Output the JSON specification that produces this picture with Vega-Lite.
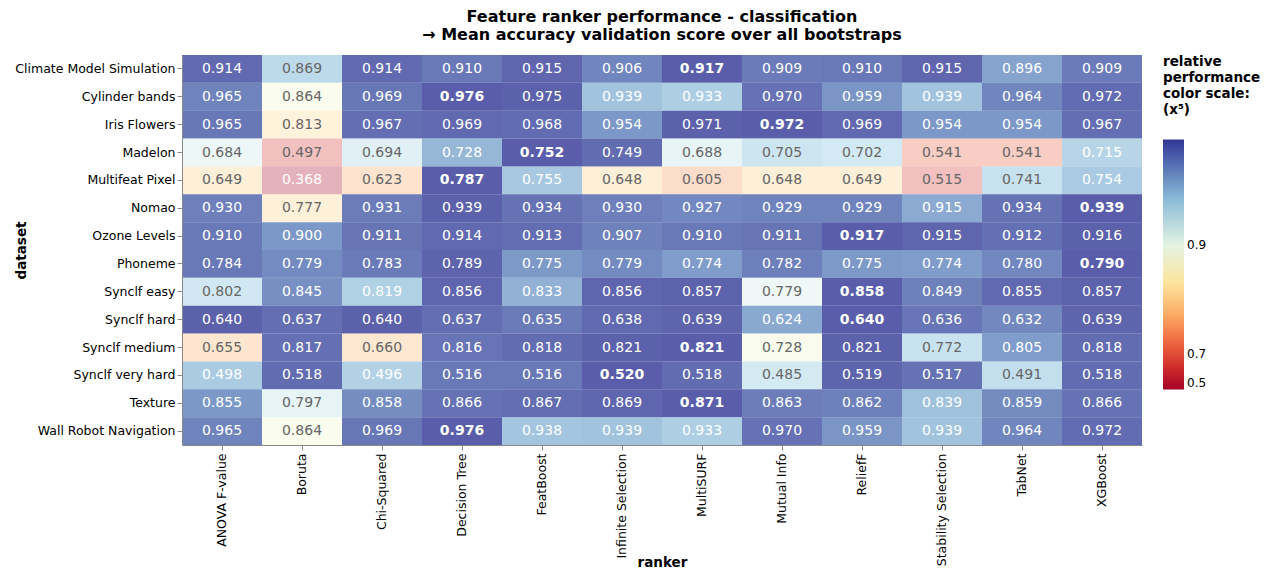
{
  "$schema": "https://vega.github.io/schema/vega-lite/v6.json",
  "autosize": {"type": "none"},
  "padding": {"left": 182, "top": 55, "right": 129, "bottom": 127},
  "width": 960,
  "height": 390,
  "title": {
    "text": ["Feature ranker performance - classification", "→ Mean accuracy validation score over all bootstraps"],
    "font": "DejaVu Sans",
    "fontSize": 16,
    "fontWeight": "bold",
    "color": "#000",
    "anchor": "middle",
    "lineHeight": 18,
    "offset": 12
  },
  "config": {
    "font": "DejaVu Sans",
    "view": {"stroke": null},
    "axis": {"labelColor": "#000", "titleColor": "#000", "labelFont": "DejaVu Sans", "titleFont": "DejaVu Sans", "labelFontSize": 12.5, "titleFontSize": 13.5, "titleFontWeight": "bold"},
    "legend": {"labelColor": "#000", "titleColor": "#000", "labelFont": "DejaVu Sans", "titleFont": "DejaVu Sans"}
  },
  "data": {
    "values": [
      {"dataset": "Climate Model Simulation", "ranker": "ANOVA F-value", "score": 0.914},
      {"dataset": "Climate Model Simulation", "ranker": "Boruta", "score": 0.869},
      {"dataset": "Climate Model Simulation", "ranker": "Chi-Squared", "score": 0.914},
      {"dataset": "Climate Model Simulation", "ranker": "Decision Tree", "score": 0.910},
      {"dataset": "Climate Model Simulation", "ranker": "FeatBoost", "score": 0.915},
      {"dataset": "Climate Model Simulation", "ranker": "Infinite Selection", "score": 0.906},
      {"dataset": "Climate Model Simulation", "ranker": "MultiSURF", "score": 0.917},
      {"dataset": "Climate Model Simulation", "ranker": "Mutual Info", "score": 0.909},
      {"dataset": "Climate Model Simulation", "ranker": "ReliefF", "score": 0.910},
      {"dataset": "Climate Model Simulation", "ranker": "Stability Selection", "score": 0.915},
      {"dataset": "Climate Model Simulation", "ranker": "TabNet", "score": 0.896},
      {"dataset": "Climate Model Simulation", "ranker": "XGBoost", "score": 0.909},
      {"dataset": "Cylinder bands", "ranker": "ANOVA F-value", "score": 0.965},
      {"dataset": "Cylinder bands", "ranker": "Boruta", "score": 0.864},
      {"dataset": "Cylinder bands", "ranker": "Chi-Squared", "score": 0.969},
      {"dataset": "Cylinder bands", "ranker": "Decision Tree", "score": 0.976},
      {"dataset": "Cylinder bands", "ranker": "FeatBoost", "score": 0.975},
      {"dataset": "Cylinder bands", "ranker": "Infinite Selection", "score": 0.939},
      {"dataset": "Cylinder bands", "ranker": "MultiSURF", "score": 0.933},
      {"dataset": "Cylinder bands", "ranker": "Mutual Info", "score": 0.970},
      {"dataset": "Cylinder bands", "ranker": "ReliefF", "score": 0.959},
      {"dataset": "Cylinder bands", "ranker": "Stability Selection", "score": 0.939},
      {"dataset": "Cylinder bands", "ranker": "TabNet", "score": 0.964},
      {"dataset": "Cylinder bands", "ranker": "XGBoost", "score": 0.972},
      {"dataset": "Iris Flowers", "ranker": "ANOVA F-value", "score": 0.965},
      {"dataset": "Iris Flowers", "ranker": "Boruta", "score": 0.813},
      {"dataset": "Iris Flowers", "ranker": "Chi-Squared", "score": 0.967},
      {"dataset": "Iris Flowers", "ranker": "Decision Tree", "score": 0.969},
      {"dataset": "Iris Flowers", "ranker": "FeatBoost", "score": 0.968},
      {"dataset": "Iris Flowers", "ranker": "Infinite Selection", "score": 0.954},
      {"dataset": "Iris Flowers", "ranker": "MultiSURF", "score": 0.971},
      {"dataset": "Iris Flowers", "ranker": "Mutual Info", "score": 0.972},
      {"dataset": "Iris Flowers", "ranker": "ReliefF", "score": 0.969},
      {"dataset": "Iris Flowers", "ranker": "Stability Selection", "score": 0.954},
      {"dataset": "Iris Flowers", "ranker": "TabNet", "score": 0.954},
      {"dataset": "Iris Flowers", "ranker": "XGBoost", "score": 0.967},
      {"dataset": "Madelon", "ranker": "ANOVA F-value", "score": 0.684},
      {"dataset": "Madelon", "ranker": "Boruta", "score": 0.497},
      {"dataset": "Madelon", "ranker": "Chi-Squared", "score": 0.694},
      {"dataset": "Madelon", "ranker": "Decision Tree", "score": 0.728},
      {"dataset": "Madelon", "ranker": "FeatBoost", "score": 0.752},
      {"dataset": "Madelon", "ranker": "Infinite Selection", "score": 0.749},
      {"dataset": "Madelon", "ranker": "MultiSURF", "score": 0.688},
      {"dataset": "Madelon", "ranker": "Mutual Info", "score": 0.705},
      {"dataset": "Madelon", "ranker": "ReliefF", "score": 0.702},
      {"dataset": "Madelon", "ranker": "Stability Selection", "score": 0.541},
      {"dataset": "Madelon", "ranker": "TabNet", "score": 0.541},
      {"dataset": "Madelon", "ranker": "XGBoost", "score": 0.715},
      {"dataset": "Multifeat Pixel", "ranker": "ANOVA F-value", "score": 0.649},
      {"dataset": "Multifeat Pixel", "ranker": "Boruta", "score": 0.368},
      {"dataset": "Multifeat Pixel", "ranker": "Chi-Squared", "score": 0.623},
      {"dataset": "Multifeat Pixel", "ranker": "Decision Tree", "score": 0.787},
      {"dataset": "Multifeat Pixel", "ranker": "FeatBoost", "score": 0.755},
      {"dataset": "Multifeat Pixel", "ranker": "Infinite Selection", "score": 0.648},
      {"dataset": "Multifeat Pixel", "ranker": "MultiSURF", "score": 0.605},
      {"dataset": "Multifeat Pixel", "ranker": "Mutual Info", "score": 0.648},
      {"dataset": "Multifeat Pixel", "ranker": "ReliefF", "score": 0.649},
      {"dataset": "Multifeat Pixel", "ranker": "Stability Selection", "score": 0.515},
      {"dataset": "Multifeat Pixel", "ranker": "TabNet", "score": 0.741},
      {"dataset": "Multifeat Pixel", "ranker": "XGBoost", "score": 0.754},
      {"dataset": "Nomao", "ranker": "ANOVA F-value", "score": 0.930},
      {"dataset": "Nomao", "ranker": "Boruta", "score": 0.777},
      {"dataset": "Nomao", "ranker": "Chi-Squared", "score": 0.931},
      {"dataset": "Nomao", "ranker": "Decision Tree", "score": 0.9386},
      {"dataset": "Nomao", "ranker": "FeatBoost", "score": 0.934},
      {"dataset": "Nomao", "ranker": "Infinite Selection", "score": 0.930},
      {"dataset": "Nomao", "ranker": "MultiSURF", "score": 0.927},
      {"dataset": "Nomao", "ranker": "Mutual Info", "score": 0.929},
      {"dataset": "Nomao", "ranker": "ReliefF", "score": 0.929},
      {"dataset": "Nomao", "ranker": "Stability Selection", "score": 0.915},
      {"dataset": "Nomao", "ranker": "TabNet", "score": 0.934},
      {"dataset": "Nomao", "ranker": "XGBoost", "score": 0.9394},
      {"dataset": "Ozone Levels", "ranker": "ANOVA F-value", "score": 0.910},
      {"dataset": "Ozone Levels", "ranker": "Boruta", "score": 0.900},
      {"dataset": "Ozone Levels", "ranker": "Chi-Squared", "score": 0.911},
      {"dataset": "Ozone Levels", "ranker": "Decision Tree", "score": 0.914},
      {"dataset": "Ozone Levels", "ranker": "FeatBoost", "score": 0.913},
      {"dataset": "Ozone Levels", "ranker": "Infinite Selection", "score": 0.907},
      {"dataset": "Ozone Levels", "ranker": "MultiSURF", "score": 0.910},
      {"dataset": "Ozone Levels", "ranker": "Mutual Info", "score": 0.911},
      {"dataset": "Ozone Levels", "ranker": "ReliefF", "score": 0.917},
      {"dataset": "Ozone Levels", "ranker": "Stability Selection", "score": 0.915},
      {"dataset": "Ozone Levels", "ranker": "TabNet", "score": 0.912},
      {"dataset": "Ozone Levels", "ranker": "XGBoost", "score": 0.916},
      {"dataset": "Phoneme", "ranker": "ANOVA F-value", "score": 0.784},
      {"dataset": "Phoneme", "ranker": "Boruta", "score": 0.779},
      {"dataset": "Phoneme", "ranker": "Chi-Squared", "score": 0.783},
      {"dataset": "Phoneme", "ranker": "Decision Tree", "score": 0.789},
      {"dataset": "Phoneme", "ranker": "FeatBoost", "score": 0.775},
      {"dataset": "Phoneme", "ranker": "Infinite Selection", "score": 0.779},
      {"dataset": "Phoneme", "ranker": "MultiSURF", "score": 0.774},
      {"dataset": "Phoneme", "ranker": "Mutual Info", "score": 0.782},
      {"dataset": "Phoneme", "ranker": "ReliefF", "score": 0.775},
      {"dataset": "Phoneme", "ranker": "Stability Selection", "score": 0.774},
      {"dataset": "Phoneme", "ranker": "TabNet", "score": 0.780},
      {"dataset": "Phoneme", "ranker": "XGBoost", "score": 0.790},
      {"dataset": "Synclf easy", "ranker": "ANOVA F-value", "score": 0.802},
      {"dataset": "Synclf easy", "ranker": "Boruta", "score": 0.845},
      {"dataset": "Synclf easy", "ranker": "Chi-Squared", "score": 0.819},
      {"dataset": "Synclf easy", "ranker": "Decision Tree", "score": 0.856},
      {"dataset": "Synclf easy", "ranker": "FeatBoost", "score": 0.833},
      {"dataset": "Synclf easy", "ranker": "Infinite Selection", "score": 0.856},
      {"dataset": "Synclf easy", "ranker": "MultiSURF", "score": 0.857},
      {"dataset": "Synclf easy", "ranker": "Mutual Info", "score": 0.779},
      {"dataset": "Synclf easy", "ranker": "ReliefF", "score": 0.858},
      {"dataset": "Synclf easy", "ranker": "Stability Selection", "score": 0.849},
      {"dataset": "Synclf easy", "ranker": "TabNet", "score": 0.855},
      {"dataset": "Synclf easy", "ranker": "XGBoost", "score": 0.857},
      {"dataset": "Synclf hard", "ranker": "ANOVA F-value", "score": 0.6398},
      {"dataset": "Synclf hard", "ranker": "Boruta", "score": 0.637},
      {"dataset": "Synclf hard", "ranker": "Chi-Squared", "score": 0.6398},
      {"dataset": "Synclf hard", "ranker": "Decision Tree", "score": 0.637},
      {"dataset": "Synclf hard", "ranker": "FeatBoost", "score": 0.635},
      {"dataset": "Synclf hard", "ranker": "Infinite Selection", "score": 0.638},
      {"dataset": "Synclf hard", "ranker": "MultiSURF", "score": 0.639},
      {"dataset": "Synclf hard", "ranker": "Mutual Info", "score": 0.624},
      {"dataset": "Synclf hard", "ranker": "ReliefF", "score": 0.6403},
      {"dataset": "Synclf hard", "ranker": "Stability Selection", "score": 0.636},
      {"dataset": "Synclf hard", "ranker": "TabNet", "score": 0.632},
      {"dataset": "Synclf hard", "ranker": "XGBoost", "score": 0.639},
      {"dataset": "Synclf medium", "ranker": "ANOVA F-value", "score": 0.655},
      {"dataset": "Synclf medium", "ranker": "Boruta", "score": 0.817},
      {"dataset": "Synclf medium", "ranker": "Chi-Squared", "score": 0.660},
      {"dataset": "Synclf medium", "ranker": "Decision Tree", "score": 0.816},
      {"dataset": "Synclf medium", "ranker": "FeatBoost", "score": 0.818},
      {"dataset": "Synclf medium", "ranker": "Infinite Selection", "score": 0.8208},
      {"dataset": "Synclf medium", "ranker": "MultiSURF", "score": 0.8213},
      {"dataset": "Synclf medium", "ranker": "Mutual Info", "score": 0.728},
      {"dataset": "Synclf medium", "ranker": "ReliefF", "score": 0.8207},
      {"dataset": "Synclf medium", "ranker": "Stability Selection", "score": 0.772},
      {"dataset": "Synclf medium", "ranker": "TabNet", "score": 0.805},
      {"dataset": "Synclf medium", "ranker": "XGBoost", "score": 0.818},
      {"dataset": "Synclf very hard", "ranker": "ANOVA F-value", "score": 0.498},
      {"dataset": "Synclf very hard", "ranker": "Boruta", "score": 0.518},
      {"dataset": "Synclf very hard", "ranker": "Chi-Squared", "score": 0.496},
      {"dataset": "Synclf very hard", "ranker": "Decision Tree", "score": 0.516},
      {"dataset": "Synclf very hard", "ranker": "FeatBoost", "score": 0.516},
      {"dataset": "Synclf very hard", "ranker": "Infinite Selection", "score": 0.520},
      {"dataset": "Synclf very hard", "ranker": "MultiSURF", "score": 0.518},
      {"dataset": "Synclf very hard", "ranker": "Mutual Info", "score": 0.485},
      {"dataset": "Synclf very hard", "ranker": "ReliefF", "score": 0.519},
      {"dataset": "Synclf very hard", "ranker": "Stability Selection", "score": 0.517},
      {"dataset": "Synclf very hard", "ranker": "TabNet", "score": 0.491},
      {"dataset": "Synclf very hard", "ranker": "XGBoost", "score": 0.518},
      {"dataset": "Texture", "ranker": "ANOVA F-value", "score": 0.855},
      {"dataset": "Texture", "ranker": "Boruta", "score": 0.797},
      {"dataset": "Texture", "ranker": "Chi-Squared", "score": 0.858},
      {"dataset": "Texture", "ranker": "Decision Tree", "score": 0.866},
      {"dataset": "Texture", "ranker": "FeatBoost", "score": 0.867},
      {"dataset": "Texture", "ranker": "Infinite Selection", "score": 0.869},
      {"dataset": "Texture", "ranker": "MultiSURF", "score": 0.871},
      {"dataset": "Texture", "ranker": "Mutual Info", "score": 0.863},
      {"dataset": "Texture", "ranker": "ReliefF", "score": 0.862},
      {"dataset": "Texture", "ranker": "Stability Selection", "score": 0.839},
      {"dataset": "Texture", "ranker": "TabNet", "score": 0.859},
      {"dataset": "Texture", "ranker": "XGBoost", "score": 0.866},
      {"dataset": "Wall Robot Navigation", "ranker": "ANOVA F-value", "score": 0.965},
      {"dataset": "Wall Robot Navigation", "ranker": "Boruta", "score": 0.864},
      {"dataset": "Wall Robot Navigation", "ranker": "Chi-Squared", "score": 0.969},
      {"dataset": "Wall Robot Navigation", "ranker": "Decision Tree", "score": 0.976},
      {"dataset": "Wall Robot Navigation", "ranker": "FeatBoost", "score": 0.938},
      {"dataset": "Wall Robot Navigation", "ranker": "Infinite Selection", "score": 0.939},
      {"dataset": "Wall Robot Navigation", "ranker": "MultiSURF", "score": 0.933},
      {"dataset": "Wall Robot Navigation", "ranker": "Mutual Info", "score": 0.970},
      {"dataset": "Wall Robot Navigation", "ranker": "ReliefF", "score": 0.959},
      {"dataset": "Wall Robot Navigation", "ranker": "Stability Selection", "score": 0.939},
      {"dataset": "Wall Robot Navigation", "ranker": "TabNet", "score": 0.964},
      {"dataset": "Wall Robot Navigation", "ranker": "XGBoost", "score": 0.972}
    ]
  },
  "transform": [
    {"joinaggregate": [{"op": "max", "field": "score", "as": "best"}], "groupby": ["dataset"]},
    {"calculate": "datum.score / datum.best", "as": "rel"}
  ],
  "encoding": {
    "x": {
      "field": "ranker", "type": "nominal", "title": "ranker",
      "axis": {"labelAngle": -90, "titleY": 110, "labelPadding": 3}
    },
    "y": {
      "field": "dataset", "type": "nominal", "title": "dataset",
      "axis": {"titleX": -154}
    }
  },
  "layer": [
    {
      "mark": {"type": "rect"},
      "encoding": {
        "color": {
          "field": "rel", "type": "quantitative",
          "scale": {"type": "pow", "exponent": 5, "domain": [0.5, 1], "scheme": "redyellowblue", "clamp": true},
          "legend": {
            "title": ["relative", "performance", "color scale:", "(x⁵)"],
            "titleFontSize": 13.5, "titleLineHeight": 16, "titleFontWeight": "bold",
            "values": [0.5, 0.7, 0.9], "format": ".1f",
            "gradientLength": 250, "gradientThickness": 21,
            "labelFontSize": 12, "labelOffset": 3, "offset": 21, "titlePadding": 23
          }
        },
        "opacity": {
          "field": "rel", "type": "quantitative",
          "scale": {"type": "pow", "exponent": 5, "domain": [0.86, 1], "range": [0.3, 0.8], "clamp": true},
          "legend": null
        }
      }
    },
    {
      "transform": [{"filter": "datum.score !== datum.best"}],
      "mark": {"type": "text", "fontSize": 14, "font": "DejaVu Sans", "fontWeight": "normal"},
      "encoding": {
        "text": {"field": "score", "type": "quantitative", "format": ".3f"},
        "color": {"condition": {"test": "datum.rel >= 0.95 || datum.rel < 0.5", "value": "#ffffff"}, "value": "#666666"}
      }
    },
    {
      "transform": [{"filter": "datum.score === datum.best"}],
      "mark": {"type": "text", "fontSize": 14, "font": "DejaVu Sans", "fontWeight": "bold", "color": "#ffffff"},
      "encoding": {
        "text": {"field": "score", "type": "quantitative", "format": ".3f"}
      }
    }
  ]
}
